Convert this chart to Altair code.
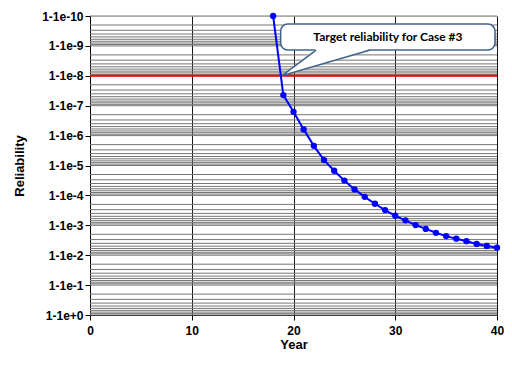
import altair as alt
import pandas as pd

# ---- data ----
years = list(range(18, 41))
unrel = [1e-10, 4.4e-8, 1.6e-7, 6.2e-7, 2.2e-6, 6.6e-6, 1.5e-5, 3.2e-5, 6.3e-5,
         1.12e-4, 1.9e-4, 3.1e-4, 4.8e-4, 6.8e-4, 9.8e-4, 1.32e-3, 1.78e-3,
         2.3e-3, 2.8e-3, 3.4e-3, 4.2e-3, 4.9e-3, 5.6e-3]
target = [1e-8]
decades = [10.0 ** -k for k in range(10, -1, -1)]
minor_grid = [m * 10.0 ** -k for k in range(10, 0, -1) for m in range(1, 10)] + [1.0]
x_ticks = [0, 10, 20, 30, 40]

callout_text = ["Target reliability for Case #3"]
box_x = [18.74]; box_x2 = [39.8]; box_y = [1.86e-10]; box_y2 = [1.38e-9]
text_x = [29.28]; text_y = [5.0e-10]
ptr_x = [22.22, 18.84, 27.54]
ptr_y = [1.38e-9, 1e-8, 1.38e-9]
area_x = [18.84, 22.22, 27.54]
area_top = [1e-8, 1.27e-9, 1.27e-9]
area_bot = [1e-8, 4.67e-9, 1.27e-9]

df = pd.DataFrame({"year": years, "q": unrel})
df_grid = pd.DataFrame({"q": minor_grid})
df_target = pd.DataFrame({"q": target})
df_box = pd.DataFrame({"x": box_x, "x2": box_x2, "y": box_y, "y2": box_y2})
df_text = pd.DataFrame({"x": text_x, "y": text_y, "t": callout_text})
df_ptr = pd.DataFrame({"x": ptr_x, "y": ptr_y, "o": [0, 1, 2]})
df_area = pd.DataFrame({"x": area_x, "y": area_top, "y2": area_bot})

LF = "Liberation Sans"

xscale = alt.Scale(domain=[0, 40], nice=False)
yscale = alt.Scale(type="log", domain=[1e-10, 1], reverse=True, nice=False)

xaxis = alt.Axis(values=x_ticks, title="Year", grid=True, gridColor="#000000",
                 gridOpacity=0.9, labelFont=LF, labelFontSize=12, labelFontWeight="bold",
                 labelColor="#000", titleFont=LF, titleFontSize=13, titleFontWeight="bold",
                 titleColor="#000", domainColor="#000", tickColor="#000", tickSize=5,
                 labelPadding=5, titlePadding=2, labelFlush=False)
yaxis = alt.Axis(values=decades, title="Reliability", grid=False,
                 labelExpr="'1-1e' + (datum.value >= 1 ? '+0' : '-' + round(-log(datum.value)/LN10))",
                 labelFont=LF, labelFontSize=12, labelFontWeight="bold", labelColor="#000",
                 titleFont=LF, titleFontSize=13, titleFontWeight="bold", titleColor="#000",
                 domainColor="#000", tickColor="#000", tickSize=5, labelPadding=2,
                 titlePadding=15)

grid = alt.Chart(df_grid).mark_rule(color="#767676", strokeWidth=1).encode(
    y=alt.Y("q:Q", scale=yscale, axis=yaxis)
)
red = alt.Chart(df_target).mark_rule(color="#FF0000", strokeWidth=2).encode(
    y=alt.Y("q:Q", scale=yscale)
)
line = alt.Chart(df).mark_line(color="#0000FF", strokeWidth=2,
                               point=alt.OverlayMarkDef(color="#0000FF", size=40, filled=True, opacity=1)).encode(
    x=alt.X("year:Q", scale=xscale, axis=xaxis),
    y=alt.Y("q:Q", scale=yscale),
)
box = alt.Chart(df_box).mark_rect(fill="white", stroke="#41658A", strokeWidth=1.5,
                                  cornerRadius=7).encode(
    x=alt.X("x:Q", scale=xscale), x2="x2:Q",
    y=alt.Y("y:Q", scale=yscale), y2="y2:Q",
)
area = alt.Chart(df_area).mark_area(color="white", opacity=1).encode(
    x=alt.X("x:Q", scale=xscale),
    y=alt.Y("y:Q", scale=yscale), y2="y2:Q",
)
ptr = alt.Chart(df_ptr).mark_line(color="#41658A", strokeWidth=1.5).encode(
    x=alt.X("x:Q", scale=xscale),
    y=alt.Y("y:Q", scale=yscale),
    order="o:O",
)
txt = alt.Chart(df_text).mark_text(font="Lato", fontSize=12, fontWeight="bold",
                                   color="#000").encode(
    x=alt.X("x:Q", scale=xscale),
    y=alt.Y("y:Q", scale=yscale),
    text="t:N",
)

chart = alt.layer(grid, red, line, box, area, ptr, txt).properties(
    width=407, height=299,
    autosize=alt.AutoSizeParams(type="none"),
    padding={"left": 82, "top": 8, "right": 7, "bottom": 40},
).configure_view(stroke="#404040", strokeWidth=1).configure(background="white")

chart.save("out.html", embed_options={"renderer": "svg", "actions": False})
